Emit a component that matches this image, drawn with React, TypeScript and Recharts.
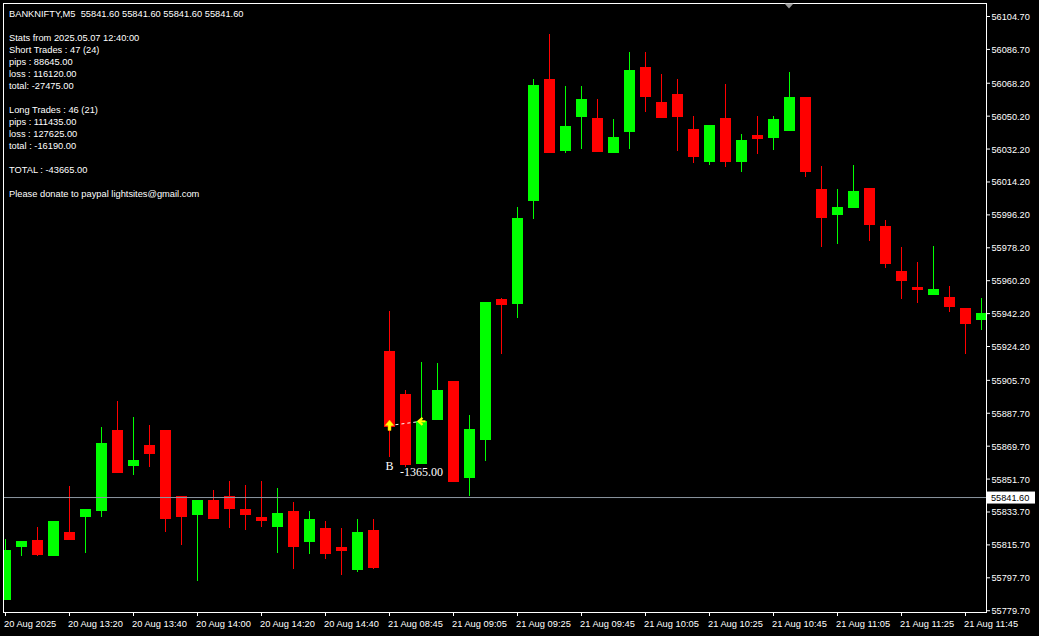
import React from "react";
import { ComposedChart, Bar, XAxis, YAxis, ReferenceLine, ReferenceDot } from "recharts";

const UP = "#00ff00";
const DOWN = "#ff0000";
const FONT = "'Liberation Sans', Arial, sans-serif";

// M5 bars, 20 Aug 13:00 .. 14:55 then 21 Aug 08:45 .. 11:50
const times = [
  "20 Aug 13:00", "20 Aug 13:05", "20 Aug 13:10", "20 Aug 13:15", "20 Aug 13:20", "20 Aug 13:25",
  "20 Aug 13:30", "20 Aug 13:35", "20 Aug 13:40", "20 Aug 13:45", "20 Aug 13:50", "20 Aug 13:55",
  "20 Aug 14:00", "20 Aug 14:05", "20 Aug 14:10", "20 Aug 14:15", "20 Aug 14:20", "20 Aug 14:25",
  "20 Aug 14:30", "20 Aug 14:35", "20 Aug 14:40", "20 Aug 14:45", "20 Aug 14:50", "20 Aug 14:55",
  "21 Aug 08:45", "21 Aug 08:50", "21 Aug 08:55", "21 Aug 09:00", "21 Aug 09:05", "21 Aug 09:10",
  "21 Aug 09:15", "21 Aug 09:20", "21 Aug 09:25", "21 Aug 09:30", "21 Aug 09:35", "21 Aug 09:40",
  "21 Aug 09:45", "21 Aug 09:50", "21 Aug 09:55", "21 Aug 10:00", "21 Aug 10:05", "21 Aug 10:10",
  "21 Aug 10:15", "21 Aug 10:20", "21 Aug 10:25", "21 Aug 10:30", "21 Aug 10:35", "21 Aug 10:40",
  "21 Aug 10:45", "21 Aug 10:50", "21 Aug 10:55", "21 Aug 11:00", "21 Aug 11:05", "21 Aug 11:10",
  "21 Aug 11:15", "21 Aug 11:20", "21 Aug 11:25", "21 Aug 11:30", "21 Aug 11:35", "21 Aug 11:40",
  "21 Aug 11:45", "21 Aug 11:50",
];

const opens = [
  55785.7, 55814.8, 55818.6, 55809.8, 55822.5, 55830.7, 55834.0, 55878.4, 55858.6, 55870.1,
  55878.4, 55842.2, 55832.3, 55840.5, 55842.2, 55835.1, 55831.2, 55825.7, 55834.0, 55817.5,
  55825.2, 55814.8, 55802.2, 55823.6, 55921.7, 55898.1, 55859.7, 55883.8, 55905.2, 55852.1,
  55872.9, 55950.2, 55947.4, 56003.9, 56070.7, 56031.3, 56049.9, 56049.4, 56030.2, 56041.7,
  56077.3, 56058.1, 56062.5, 56043.3, 56025.2, 56049.4, 56025.2, 56040.0, 56038.4, 56042.2,
  56060.9, 56010.4, 55996.2, 56000.0, 56011.0, 55990.2, 55965.5, 55956.7, 55952.3, 55951.3,
  55945.2, 55938.6,
];
const highs = [
  55819.2, 55818.1, 55825.7, 55828.5, 55847.7, 55835.1, 55880.0, 55894.3, 55885.5, 55881.1,
  55878.4, 55842.2, 55840.5, 55845.5, 55850.4, 55848.2, 55850.4, 55846.6, 55838.9, 55834.0,
  55828.5, 55825.2, 55830.1, 55830.1, 55943.6, 55900.3, 55915.6, 55915.1, 55905.2, 55886.6,
  55948.5, 55950.7, 56000.6, 56070.7, 56095.4, 56066.9, 56066.9, 56059.8, 56048.8, 56085.5,
  56085.5, 56073.5, 56070.7, 56050.5, 56045.5, 56068.0, 56040.6, 56050.5, 56050.5, 56074.6,
  56060.9, 56023.0, 56010.4, 56023.6, 56011.0, 55993.5, 55978.7, 55970.4, 55979.2, 55957.3,
  55945.2, 55950.7,
];
const lows = [
  55785.7, 55809.8, 55809.8, 55809.8, 55818.6, 55811.5, 55830.7, 55854.8, 55853.7, 55858.1,
  55823.0, 55815.9, 55796.2, 55829.6, 55825.2, 55823.6, 55825.7, 55811.5, 55802.7, 55810.9,
  55808.2, 55799.4, 55801.1, 55802.7, 55863.6, 55858.1, 55859.7, 55883.8, 55849.9, 55842.7,
  55861.4, 55920.0, 55939.7, 55994.0, 56030.2, 56030.2, 56032.4, 56030.7, 56030.2, 56032.4,
  56052.6, 56049.4, 56031.3, 56024.7, 56023.6, 56022.5, 56019.8, 56029.6, 56031.8, 56042.2,
  56017.0, 55978.7, 55980.3, 56000.0, 55981.9, 55967.1, 55950.2, 55948.0, 55952.3, 55943.0,
  55920.0, 55933.2,
];
const closes = [
  55813.1, 55818.1, 55810.4, 55828.5, 55818.6, 55835.1, 55871.2, 55854.8, 55861.9, 55865.2,
  55829.6, 55831.2, 55840.0, 55829.6, 55835.1, 55832.3, 55828.5, 55832.9, 55814.8, 55830.1,
  55810.9, 55812.6, 55822.5, 55803.3, 55880.0, 55859.2, 55883.3, 55900.3, 55849.9, 55878.9,
  55948.5, 55946.9, 55994.5, 56067.4, 56030.2, 56045.0, 56059.8, 56030.7, 56038.9, 56075.7,
  56060.9, 56049.4, 56049.9, 56028.0, 56045.5, 56025.2, 56037.3, 56037.8, 56048.8, 56060.9,
  56019.8, 55994.5, 56000.6, 56009.3, 55990.7, 55969.3, 55960.0, 55955.1, 55955.6, 55945.8,
  55936.5, 55942.5,
];

const xTickIdx = [0, 4, 8, 12, 16, 20, 24, 28, 32, 36, 40, 44, 48, 52, 56, 60];
const xTickLabels = [
  "20 Aug 2025", "20 Aug 13:20", "20 Aug 13:40", "20 Aug 14:00", "20 Aug 14:20", "20 Aug 14:40",
  "21 Aug 08:45", "21 Aug 09:05", "21 Aug 09:25", "21 Aug 09:45", "21 Aug 10:05", "21 Aug 10:25",
  "21 Aug 10:45", "21 Aug 11:05", "21 Aug 11:25", "21 Aug 11:45",
];
const yTicks = [
  56104.7, 56086.7, 56068.2, 56050.2, 56032.2, 56014.2, 55996.2, 55978.2, 55960.2, 55942.2,
  55924.2, 55905.7, 55887.7, 55869.7, 55851.7, 55833.7, 55815.7, 55797.7, 55779.7,
];
const yTickLabels = [
  "56104.70", "56086.70", "56068.20", "56050.20", "56032.20", "56014.20", "55996.20", "55978.20",
  "55960.20", "55942.20", "55924.20", "55905.70", "55887.70", "55869.70", "55851.70", "55833.70",
  "55815.70", "55797.70", "55779.70",
];

const bidPrice = 55841.6;
const trade = { entryIdx: 24, entryPrice: 55881.0, exitIdx: 26, exitPrice: 55883.3, side: "B", result: "-1365.00" };

const statLines = [
  "BANKNIFTY,M5  55841.60 55841.60 55841.60 55841.60",
  "",
  "Stats from 2025.05.07 12:40:00",
  "Short Trades : 47 (24)",
  "pips : 88645.00",
  "loss : 116120.00",
  "total: -27475.00",
  "",
  "Long Trades : 46 (21)",
  "pips : 111435.00",
  "loss : 127625.00",
  "total : -16190.00",
  "",
  "TOTAL : -43665.00",
  "",
  "Please donate to paypal lightsites@gmail.com",
];

const data = times.map((t, i) => ({
  idx: i,
  time: t,
  open: opens[i],
  high: highs[i],
  low: lows[i],
  close: closes[i],
  range: [lows[i], highs[i]],
}));

const Candle = (props: any) => {
  const { x, y, width, height, payload } = props;
  if (!payload) return null;
  const { open, high, low, close } = payload;
  const color = close >= open ? UP : DOWN;
  const span = high - low || 1;
  const toY = (p: number) => y + ((high - p) / span) * height;
  const top = Math.round(toY(Math.max(open, close)));
  const bot = Math.round(toY(Math.min(open, close)));
  const cx = Math.floor(x + width / 2) + 0.5;
  return (
    <g>
      <line x1={cx} x2={cx} y1={Math.round(y)} y2={Math.round(y + height)} stroke={color} strokeWidth={1} />
      <rect x={Math.round(x)} y={top} width={width} height={Math.max(bot - top, 1)} fill={color} />
    </g>
  );
};

const XTick = (props: any) => {
  const { x, y, payload } = props;
  const i = xTickIdx.indexOf(payload.value);
  return (
    <text x={x - 1.5} y={y + 11} fill="#fff" fontSize={9.3} fontFamily={FONT} textAnchor="start">
      {xTickLabels[i]}
    </text>
  );
};

const YTick = (props: any) => {
  const { y, payload } = props;
  const i = yTicks.indexOf(payload.value);
  return (
    <text x={991.5} y={y + 3.5} fill="#fff" fontSize={9.2} fontFamily={FONT} textAnchor="start">
      {yTickLabels[i]}
    </text>
  );
};

const BidLabel = (props: any) => {
  const vb = props.viewBox || {};
  const right = vb.x + vb.width;
  const y = vb.y;
  return (
    <g>
      <line x1={right} x2={right + 2} y1={y} y2={y} stroke="#8c96a0" />
      <rect x={right + 1} y={y - 6} width={48} height={12} fill="#fff" />
      <text x={right + 5} y={y + 3.5} fill="#000" fontSize={9.2} fontFamily={FONT}>
        {bidPrice.toFixed(2)}
      </text>
    </g>
  );
};

const EntryMark = (props: any) => {
  const { cx, cy } = props;
  return (
    <g>
      <path
        d={`M${cx - 4.5},${cy} L${cx},${cy - 5.5} L${cx + 4.5},${cy} L${cx + 1.5},${cy} L${cx + 1.5},${cy + 5} L${cx - 1.5},${cy + 5} L${cx - 1.5},${cy} Z`}
        fill="#ffff00"
        stroke="#ffb000"
        strokeWidth={0.5}
      />
      <text x={cx} y={cy + 44.5} fill="#fff" fontSize={12} fontFamily="'Liberation Serif', serif" textAnchor="middle">
        {trade.side}
      </text>
    </g>
  );
};

const ExitMark = (props: any) => {
  const { cx, cy } = props;
  return (
    <g>
      <polyline
        points={`${cx + 1},${cy - 3.5} ${cx - 3},${cy} ${cx + 1},${cy + 3.5}`}
        fill="none"
        stroke="#ffff00"
        strokeWidth={2.2}
      />
      <line x1={cx - 2} x2={cx + 4} y1={cy} y2={cy} stroke="#ffff00" strokeWidth={2} />
      <text x={cx} y={cy + 55} fill="#fff" fontSize={12} fontFamily="'Liberation Serif', serif" textAnchor="middle">
        {trade.result}
      </text>
    </g>
  );
};

export default function App() {
  return (
    <div style={{ position: "fixed", left: 0, top: 0, width: 1039, height: 636, background: "#000" }}>
      <ComposedChart width={1039} height={636} data={data} margin={{ top: 4, right: 0, bottom: 0, left: 4 }}>
        <XAxis
          type="number"
          dataKey="idx"
          domain={[-0.09375, 61.28125]}
          allowDataOverflow
          ticks={xTickIdx}
          interval={0}
          height={24}
          tickSize={4}
          tickMargin={0}
          axisLine={false}
          tickLine={{ stroke: "#fff" }}
          tick={<XTick />}
        />
        <YAxis
          orientation="right"
          domain={[55779.0, 56111.54]}
          allowDataOverflow
          ticks={yTicks}
          interval={0}
          width={53}
          tickSize={4}
          axisLine={false}
          tickLine={{ stroke: "#fff" }}
          tick={<YTick />}
        />
        <ReferenceLine y={bidPrice} stroke="#8c96a0" strokeWidth={1} label={<BidLabel />} />
        <Bar dataKey="range" barSize={11} shape={<Candle />} isAnimationActive={false} />
        <ReferenceLine
          segment={[
            { x: trade.entryIdx, y: trade.entryPrice },
            { x: trade.exitIdx, y: trade.exitPrice },
          ]}
          stroke="#fff"
          strokeDasharray="3 3"
        />
        <ReferenceDot x={trade.entryIdx} y={trade.entryPrice} r={5} shape={<EntryMark />} />
        <ReferenceDot x={trade.exitIdx} y={trade.exitPrice} r={5} shape={<ExitMark />} />
      </ComposedChart>
      <svg width={1039} height={636} style={{ position: "absolute", left: 0, top: 0, pointerEvents: "none" }}>
        <rect x={3.5} y={3.5} width={983} height={609} fill="none" stroke="#fff" strokeWidth={1} />
        <path d="M784.5,3.5 L793.5,3.5 L789,8.5 Z" fill="#9a9a9a" />
        {statLines.map((line, i) => (
          <text
            key={i}
            x={9}
            y={16.5 + i * 12}
            fill="#fff"
            fontSize={9.3}
            fontFamily={FONT}
            style={{ whiteSpace: "pre" }}
          >
            {line}
          </text>
        ))}
      </svg>
    </div>
  );
}
